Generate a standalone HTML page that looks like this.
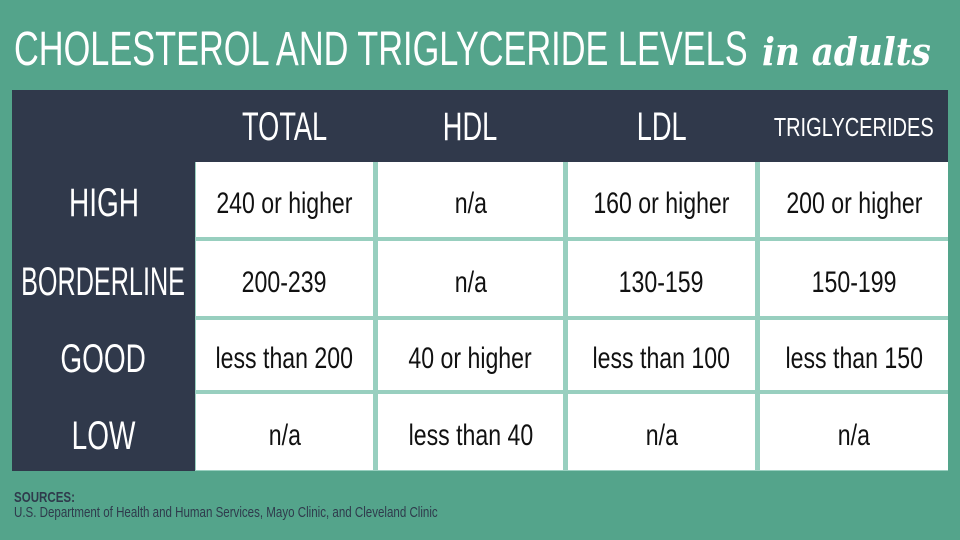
<!DOCTYPE html>
<html><head><meta charset="utf-8"><style>
body{margin:0;width:960px;height:540px;background:#54a48b;position:relative;overflow:hidden;font-family:"Liberation Sans",sans-serif;}
.a{position:absolute;}
.s{display:inline-block;white-space:nowrap}
#title{left:14px;top:22px;color:#fff;font-size:48px;line-height:56px;white-space:nowrap;transform:scaleX(0.715);transform-origin:left top}
#adults{left:762px;top:24px;color:#fff;font-family:"DejaVu Serif",serif;font-style:italic;font-weight:bold;font-size:38px;line-height:56px;white-space:nowrap;transform:scaleX(0.9);transform-origin:left top}
#box{left:12px;top:90px;width:936px;height:381px;background:#30394b}
.h{color:#fff;text-align:center;display:flex;align-items:center;justify-content:center;box-sizing:border-box}
.c{background:#fff;color:#111;text-align:center;display:flex;align-items:center;justify-content:center;font-size:30px;box-sizing:border-box;padding-top:8px}
.c .s{transform:scaleX(0.77)}
.g{background:#98cfbf}
#src{left:14px;top:490px;color:#2f3a4c;font-size:15px;line-height:15px;white-space:nowrap;transform:scaleX(0.77);transform-origin:left top}
</style></head><body>
<div class="a" id="title">CHOLESTEROL AND TRIGLYCERIDE LEVELS</div>
<div class="a" id="adults">in adults</div>
<div class="a" id="box"></div>
<div class="a g" style="left:195px;top:162px;width:753px;height:309px"></div>
<div id="cells"></div>
<div class="a" id="src"><b>SOURCES:</b><br>U.S. Department of Health and Human Services, Mayo Clinic, and Cleveland Clinic</div>
<script>
const columns=["TOTAL","HDL","LDL","TRIGLYCERIDES"];
const rows=["HIGH","BORDERLINE","GOOD","LOW"];
const values=[["240 or higher","n/a","160 or higher","200 or higher"],["200-239","n/a","130-159","150-199"],["less than 200","40 or higher","less than 100","less than 150"],["n/a","less than 40","n/a","n/a"]];
const colX=[[196,373],[378,563],[568,755],[760,948]];
const rowY=[[162,237],[241,316],[320,390],[394,470]];
const root=document.getElementById('cells');
function mk(cls,x,y,w,h,t,fs,sc,pt){const d=document.createElement('div');d.className='a '+cls;d.style.cssText=`left:${x}px;top:${y}px;width:${w}px;height:${h}px;`+(fs?`font-size:${fs}px;`:'')+(pt?`padding-top:${pt}px;`:'');const s=document.createElement('span');s.className='s';s.textContent=t;if(sc)s.style.transform=`scaleX(${sc})`;d.appendChild(s);root.appendChild(d);return d;}
columns.forEach((c,i)=>{const d=mk('h',colX[i][0],90,colX[i][1]-colX[i][0],72,c,i==3?26:40,i==3?0.77:0.68,2);

});
rows.forEach((r,j)=>{const d=mk('h',12,rowY[j][0],183,rowY[j][1]-rowY[j][0],r,40,r.length>6?0.63:0.7,8);


values[j].forEach((v,i)=>{const e=mk('c',colX[i][0],rowY[j][0],colX[i][1]-colX[i][0],rowY[j][1]-rowY[j][0],v);

});});
</script>
</body></html>
